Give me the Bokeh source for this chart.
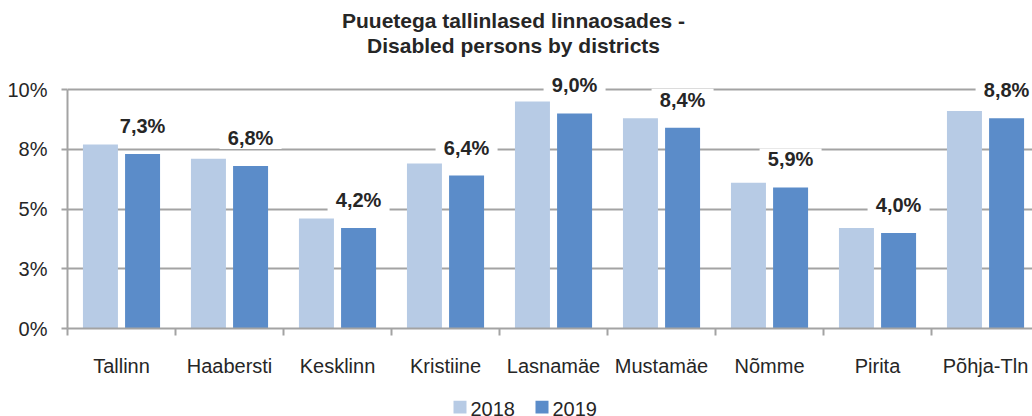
from bokeh.plotting import figure
from bokeh.layouts import column
from bokeh.models import ColumnDataSource, Range1d, FixedTicker, Label
from bokeh.transform import dodge
from bokeh.embed import file_html
from bokeh.resources import INLINE

districts = ["Tallinn", "Haabersti", "Kesklinn", "Kristiine", "Lasnamäe",
             "Mustamäe", "Nõmme", "Pirita", "Põhja-Tln"]
v2018 = [7.7, 7.1, 4.6, 6.9, 9.5, 8.8, 6.1, 4.2, 9.1]
v2019 = [7.3, 6.8, 4.2, 6.4, 9.0, 8.4, 5.9, 4.0, 8.8]
y_ticks = [0, 2.5, 5, 7.5, 10]
y_tick_labels = ["0%", "3%", "5%", "8%", "10%"]
series_names = ["2018", "2019"]
title_lines = ["Puuetega tallinlased linnaosades -", "Disabled persons by districts"]

FONT = "Liberation Sans"
BFONT = "Arial"
TXT = "#262626"
GRID = "#a3a3a3"
C18 = "#b7cbe5"
C19 = "#5b8cc9"

PX = 23.9          # pixels per percentage point
FRAME_H = 328      # frame from canvas top to the x axis
FRAME_L = 67       # left border
DODGE = 0.195
LAB_UP = 28 / PX   # label centre above the 2019 bar

xc = [i + 0.5 for i in range(len(districts))]
lab = [("%.1f%%" % v).replace(".", ",") for v in v2019]
src = ColumnDataSource(dict(
    x=xc, v2018=v2018, v2019=v2019,
    ly=[v + LAB_UP for v in v2019],
))

p = figure(width=1032, height=400, output_backend="svg", toolbar_location=None,
           x_range=Range1d(0, 8.935), y_range=Range1d(0, FRAME_H / PX),
           min_border_left=FRAME_L, min_border_right=0, min_border_top=0,
           min_border_bottom=400 - FRAME_H)
p.outline_line_color = None
p.background_fill_color = "white"

p.vbar(x=dodge("x", -DODGE, range=p.x_range), top="v2018", width=0.324,
       bottom=0, source=src, fill_color=C18, line_color=None)
p.vbar(x=dodge("x", DODGE, range=p.x_range), top="v2019", width=0.324,
       bottom=0, source=src, fill_color=C19, line_color=None)

p.xgrid.visible = False
p.ygrid.ticker = FixedTicker(ticks=y_ticks)
p.ygrid.grid_line_color = GRID
p.ygrid.grid_line_width = 2

ya = p.yaxis[0]
ya.ticker = FixedTicker(ticks=y_ticks)
ya.bounds = (0, 10)
ya.major_label_overrides = {t: l for t, l in zip(y_ticks, y_tick_labels)}
ya.axis_line_color = GRID
ya.axis_line_width = 2
ya.major_tick_line_color = GRID
ya.major_tick_line_width = 2
ya.major_tick_out = 6
ya.major_tick_in = 0
ya.minor_tick_line_color = None
ya.major_label_standoff = 14
ya.major_label_text_font = FONT
ya.major_label_text_font_size = "20px"
ya.major_label_text_color = TXT

xa = p.xaxis[0]
xa.ticker = FixedTicker(ticks=xc, minor_ticks=list(range(len(districts) + 1)))
xa.major_label_overrides = {c: d for c, d in zip(xc, districts)}
xa.axis_line_color = GRID
xa.axis_line_width = 2
xa.major_tick_line_color = None
xa.major_tick_out = 0
xa.major_tick_in = 0
xa.minor_tick_line_color = GRID
xa.minor_tick_line_width = 2
xa.minor_tick_out = 7
xa.minor_tick_in = 0
xa.major_label_standoff = 19
xa.major_label_text_font = FONT
xa.major_label_text_font_size = "20px"
xa.major_label_text_color = TXT

# white boxes behind the data labels
p.rect(x=dodge("x", DODGE, range=p.x_range), y="ly", width=62, height=22,
       width_units="screen", height_units="screen", source=src,
       fill_color="white", line_color=None)
for xi, yi, t in zip(xc, v2019, lab):
    p.add_layout(Label(x=xi + DODGE, y=yi + LAB_UP, text=t,
                       text_align="center", text_baseline="middle",
                       text_font=BFONT, text_font_size="20px",
                       text_font_style="bold", text_color=TXT))

for i, line in enumerate(title_lines):
    p.add_layout(Label(x=4.13, y=10 + (69 - 25 * i) / PX, text=line,
                       text_align="center", text_baseline="middle",
                       text_font=BFONT, text_font_size="21px",
                       text_font_style="bold", text_color=TXT))

# legend strip (pixel coordinates inside its own frame)
LEG_X0 = 386
LEG_STEP = 82
q = figure(width=1032, height=16, output_backend="svg", toolbar_location=None,
           x_range=Range1d(0, 1032 - FRAME_L), y_range=Range1d(0, 16),
           x_axis_type=None, y_axis_type=None, min_border=0,
           min_border_left=FRAME_L)
q.outline_line_color = None
q.grid.visible = False
sw_x = [LEG_X0 + 6.5 + k * LEG_STEP for k in range(len(series_names))]
q.rect(x=sw_x, y=[9.5] * len(series_names), width=13, height=13,
       fill_color=[C18, C19], line_color=None)
for k, name in enumerate(series_names):
    q.add_layout(Label(x=LEG_X0 + 17 + k * LEG_STEP, y=8, text=name,
                       text_align="left", text_baseline="middle",
                       text_font=FONT, text_font_size="20px", text_color=TXT))

open("out.html", "w").write(file_html(column(p, q, spacing=0), INLINE))
